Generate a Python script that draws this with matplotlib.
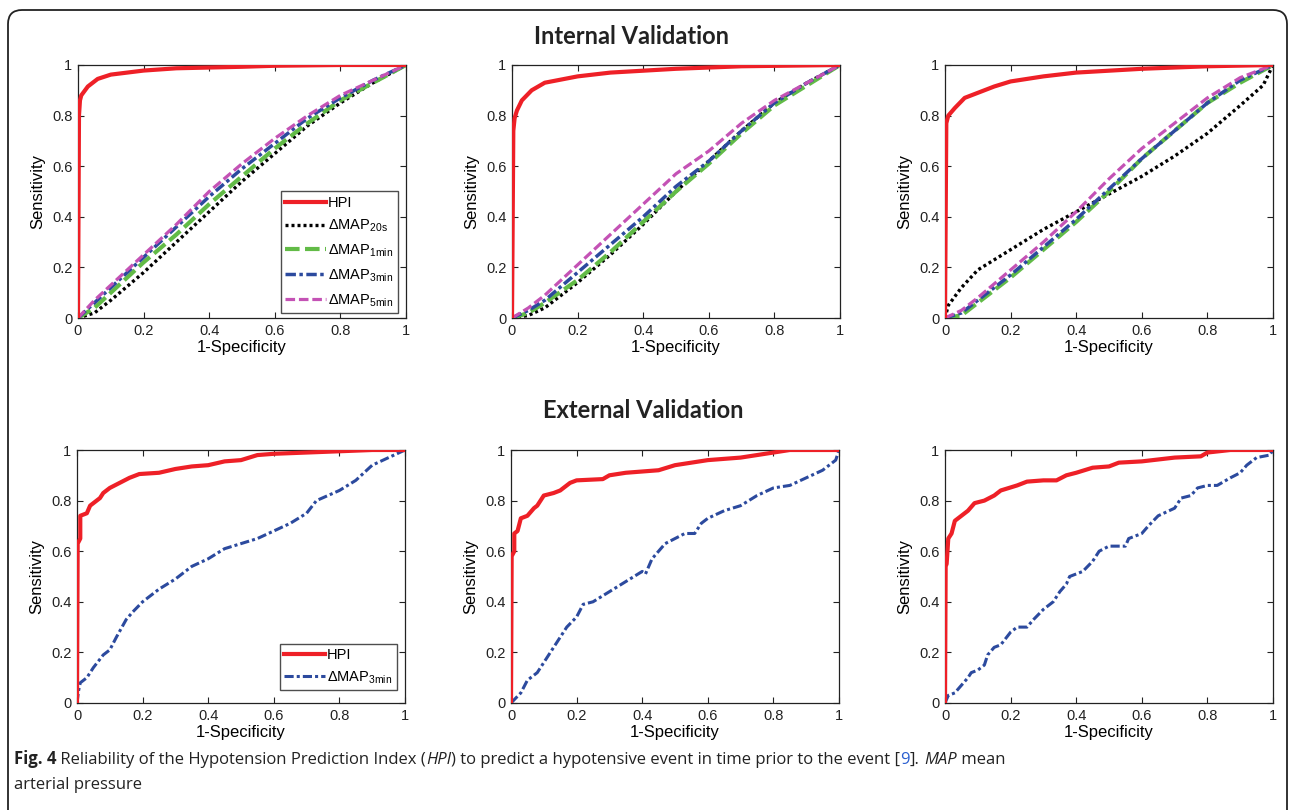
import matplotlib.pyplot as plt
from matplotlib.patches import FancyBboxPatch
from matplotlib.transforms import IdentityTransform

plt.rcParams['font.family'] = ['Liberation Sans', 'DejaVu Sans']
plt.rcParams['mathtext.fontset'] = 'custom'
plt.rcParams['mathtext.rm'] = 'Liberation Sans'

# ---- internal validation, panel 1 ----
int1_hpi_x = [0, 0.003, 0.006, 0.01, 0.03, 0.06, 0.1, 0.2, 0.3, 0.5, 0.6, 0.8, 1.0]
int1_hpi_y = [0, 0.80, 0.86, 0.88, 0.915, 0.945, 0.962, 0.978, 0.987, 0.993, 0.997, 1.0, 1.0]
int1_x = [0, 0.05, 0.1, 0.2, 0.3, 0.4, 0.5, 0.6, 0.7, 0.8, 0.9, 1.0]
int1_20s = [0, 0.02, 0.07, 0.18, 0.30, 0.42, 0.54, 0.65, 0.76, 0.85, 0.93, 1.0]
int1_1min = [0, 0.04, 0.10, 0.22, 0.33, 0.45, 0.56, 0.67, 0.77, 0.86, 0.93, 1.0]
int1_3min = [0, 0.06, 0.12, 0.24, 0.36, 0.48, 0.59, 0.69, 0.79, 0.87, 0.94, 1.0]
int1_5min = [0, 0.07, 0.13, 0.25, 0.37, 0.50, 0.61, 0.71, 0.80, 0.88, 0.94, 1.0]

# ---- internal validation, panel 2 ----
int2_hpi_x = [0, 0.004, 0.008, 0.015, 0.03, 0.06, 0.1, 0.2, 0.3, 0.5, 0.7, 1.0]
int2_hpi_y = [0, 0.74, 0.79, 0.82, 0.86, 0.90, 0.93, 0.955, 0.97, 0.985, 0.995, 1.0]
int2_x = [0, 0.05, 0.1, 0.2, 0.3, 0.4, 0.5, 0.6, 0.7, 0.8, 0.9, 1.0]
int2_20s = [0, 0.01, 0.04, 0.14, 0.25, 0.37, 0.50, 0.62, 0.74, 0.85, 0.93, 1.0]
int2_1min = [0, 0.02, 0.06, 0.15, 0.26, 0.38, 0.50, 0.61, 0.73, 0.84, 0.92, 1.0]
int2_3min = [0, 0.03, 0.07, 0.18, 0.29, 0.40, 0.52, 0.62, 0.74, 0.85, 0.93, 1.0]
int2_5min = [0, 0.04, 0.09, 0.21, 0.33, 0.45, 0.57, 0.66, 0.77, 0.86, 0.93, 1.0]

# ---- internal validation, panel 3 ----
int3_hpi_x = [0, 0.004, 0.01, 0.03, 0.06, 0.1, 0.15, 0.2, 0.3, 0.4, 0.6, 0.8, 1.0]
int3_hpi_y = [0, 0.77, 0.80, 0.83, 0.87, 0.89, 0.915, 0.935, 0.955, 0.97, 0.985, 0.995, 1.0]
int3_20s_x = [0, 0.01, 0.05, 0.1, 0.2, 0.3, 0.4, 0.5, 0.6, 0.7, 0.8, 0.9, 0.97, 1.0]
int3_20s_y = [0, 0.05, 0.12, 0.19, 0.27, 0.35, 0.42, 0.49, 0.56, 0.64, 0.73, 0.84, 0.92, 1.0]
int3_x = [0, 0.05, 0.1, 0.2, 0.3, 0.4, 0.5, 0.6, 0.7, 0.8, 0.9, 1.0]
int3_1min = [0, 0.01, 0.06, 0.16, 0.27, 0.38, 0.50, 0.63, 0.74, 0.85, 0.93, 1.0]
int3_3min = [0, 0.02, 0.07, 0.17, 0.28, 0.39, 0.51, 0.63, 0.74, 0.85, 0.94, 1.0]
int3_5min = [0, 0.03, 0.08, 0.19, 0.30, 0.42, 0.55, 0.67, 0.77, 0.87, 0.95, 1.0]

# ---- external validation, panel 1 ----
ext1_hpi_x = [0, 0.002, 0.01, 0.01, 0.03, 0.04, 0.05, 0.07, 0.08, 0.1, 0.13, 0.16, 0.19, 0.25,
              0.3, 0.35, 0.4, 0.45, 0.5, 0.55, 0.6, 0.7, 0.8, 0.9, 1.0]
ext1_hpi_y = [0, 0.63, 0.65, 0.74, 0.75, 0.78, 0.79, 0.81, 0.83, 0.85, 0.87, 0.89, 0.905, 0.91,
              0.925, 0.935, 0.94, 0.955, 0.96, 0.98, 0.985, 0.99, 0.995, 1.0, 1.0]
ext1_map_x = [0, 0.005, 0.01, 0.03, 0.05, 0.08, 0.1, 0.12, 0.15, 0.17, 0.2, 0.25, 0.3, 0.35,
              0.4, 0.45, 0.5, 0.55, 0.6, 0.65, 0.7, 0.73, 0.8, 0.85, 0.9, 0.95, 1.0]
ext1_map_y = [0, 0.05, 0.08, 0.10, 0.14, 0.19, 0.21, 0.26, 0.33, 0.36, 0.40, 0.45, 0.49, 0.54,
              0.57, 0.61, 0.63, 0.65, 0.68, 0.71, 0.75, 0.80, 0.84, 0.88, 0.94, 0.97, 1.0]

# ---- external validation, panel 2 ----
ext2_hpi_x = [0, 0.002, 0.01, 0.01, 0.02, 0.03, 0.05, 0.07, 0.08, 0.09, 0.1, 0.13, 0.15, 0.18,
              0.2, 0.28, 0.3, 0.35, 0.4, 0.45, 0.5, 0.55, 0.6, 0.7, 0.8, 0.85, 1.0]
ext2_hpi_y = [0, 0.58, 0.60, 0.67, 0.68, 0.73, 0.74, 0.77, 0.78, 0.80, 0.82, 0.83, 0.84, 0.87,
              0.88, 0.885, 0.90, 0.91, 0.915, 0.92, 0.94, 0.95, 0.96, 0.97, 0.99, 1.0, 1.0]
ext2_map_x = [0, 0.03, 0.05, 0.08, 0.1, 0.13, 0.15, 0.17, 0.2, 0.22, 0.25, 0.3, 0.35, 0.4, 0.41,
              0.43, 0.45, 0.47, 0.5, 0.53, 0.56, 0.58, 0.6, 0.65, 0.7, 0.75, 0.8, 0.85, 0.9,
              0.95, 0.99, 1.0]
ext2_map_y = [0, 0.04, 0.09, 0.12, 0.16, 0.22, 0.26, 0.30, 0.34, 0.39, 0.40, 0.44, 0.48, 0.52,
              0.51, 0.57, 0.60, 0.63, 0.65, 0.67, 0.67, 0.71, 0.73, 0.76, 0.78, 0.82, 0.85, 0.86,
              0.89, 0.92, 0.96, 1.0]

# ---- external validation, panel 3 ----
ext3_hpi_x = [0, 0.002, 0.005, 0.01, 0.02, 0.03, 0.05, 0.07, 0.09, 0.12, 0.15, 0.17, 0.22, 0.25,
              0.3, 0.34, 0.37, 0.4, 0.45, 0.5, 0.53, 0.6, 0.7, 0.78, 0.8, 0.87, 1.0]
ext3_hpi_y = [0, 0.54, 0.55, 0.65, 0.67, 0.72, 0.74, 0.76, 0.79, 0.80, 0.82, 0.84, 0.86, 0.875,
              0.88, 0.88, 0.90, 0.91, 0.93, 0.935, 0.95, 0.955, 0.97, 0.975, 0.99, 1.0, 1.0]
ext3_map_x = [0, 0.01, 0.03, 0.05, 0.07, 0.08, 0.1, 0.12, 0.13, 0.15, 0.17, 0.2, 0.22, 0.25,
              0.27, 0.3, 0.33, 0.35, 0.37, 0.38, 0.42, 0.45, 0.47, 0.5, 0.55, 0.56, 0.6, 0.62,
              0.65, 0.7, 0.72, 0.75, 0.77, 0.8, 0.83, 0.87, 0.9, 0.92, 0.95, 0.99, 1.0]
ext3_map_y = [0, 0.03, 0.04, 0.07, 0.10, 0.12, 0.13, 0.15, 0.19, 0.22, 0.23, 0.28, 0.30, 0.30,
              0.33, 0.37, 0.40, 0.44, 0.47, 0.50, 0.52, 0.56, 0.60, 0.62, 0.62, 0.65, 0.67, 0.70,
              0.74, 0.77, 0.81, 0.82, 0.85, 0.86, 0.86, 0.89, 0.91, 0.94, 0.97, 0.98, 1.0]

labels = ['HPI', r'ΔMAP$_{\mathregular{20s}}$', r'ΔMAP$_{\mathregular{1min}}$',
          r'ΔMAP$_{\mathregular{3min}}$', r'ΔMAP$_{\mathregular{5min}}$']

RED = '#ee2027'
GREEN = '#62bb47'
BLUE = '#2c4a9e'
MAGENTA = '#c452b5'

fig = plt.figure(figsize=(12.92, 8.10), dpi=100)


def make_ax(left_px, top_px):
    ax = fig.add_axes([left_px / 1292, 1 - (top_px + 253) / 810, 328 / 1292, 253 / 810])
    ax.set_xlim(0, 1)
    ax.set_ylim(0, 1)
    ax.set_xticks([0, 0.2, 0.4, 0.6, 0.8, 1])
    ax.set_yticks([0, 0.2, 0.4, 0.6, 0.8, 1])
    ax.set_xticklabels(['0', '0.2', '0.4', '0.6', '0.8', '1'])
    ax.set_yticklabels(['0', '0.2', '0.4', '0.6', '0.8', '1'])
    ax.tick_params(direction='in', top=True, right=True, length=4, width=0.8,
                   labelsize=10.5, pad=4, colors='#222222')
    for s in ax.spines.values():
        s.set_linewidth(0.9)
        s.set_color('#222222')
    ax.set_xlabel('1-Specificity', fontsize=12, labelpad=2)
    ax.set_ylabel('Sensitivity', fontsize=12, labelpad=5)
    return ax


def internal(ax, hx, hy, mx20, m20, mx, m1, m3, m5):
    ax.plot(mx20, m20, color='black', lw=2.4, dashes=(0.9, 0.9), zorder=3)
    ax.plot(mx, m1, color=GREEN, lw=3, dashes=(3.5, 1.3), zorder=3)
    ax.plot(mx, m3, color=BLUE, lw=2.5, dashes=(3, 1, 1, 1), zorder=3)
    ax.plot(mx, m5, color=MAGENTA, lw=2.3, dashes=(3, 1.2), zorder=3)
    ax.plot(hx, hy, color=RED, lw=3, zorder=4)


def external(ax, hx, hy, mx, my):
    ax.plot(mx, my, color=BLUE, lw=2.2, dashes=(3, 1, 1, 1), zorder=3)
    ax.plot(hx, hy, color=RED, lw=3, zorder=4)


ax1 = make_ax(78, 65)
internal(ax1, int1_hpi_x, int1_hpi_y, int1_x, int1_20s, int1_x, int1_1min, int1_3min, int1_5min)
ax2 = make_ax(512, 65)
internal(ax2, int2_hpi_x, int2_hpi_y, int2_x, int2_20s, int2_x, int2_1min, int2_3min, int2_5min)
ax3 = make_ax(945, 65)
internal(ax3, int3_hpi_x, int3_hpi_y, int3_20s_x, int3_20s_y, int3_x, int3_1min, int3_3min, int3_5min)

ax4 = make_ax(77, 450)
external(ax4, ext1_hpi_x, ext1_hpi_y, ext1_map_x, ext1_map_y)
ax5 = make_ax(511, 450)
external(ax5, ext2_hpi_x, ext2_hpi_y, ext2_map_x, ext2_map_y)
ax6 = make_ax(945, 450)
external(ax6, ext3_hpi_x, ext3_hpi_y, ext3_map_x, ext3_map_y)

# legends
h1 = [ax1.lines[4], ax1.lines[0], ax1.lines[1], ax1.lines[2], ax1.lines[3]]
leg = ax1.legend(h1, labels, loc='lower right', bbox_to_anchor=(0.975, 0.02), fontsize=10.5,
                 frameon=True, fancybox=False, edgecolor='#222222', handlelength=2.8,
                 handletextpad=0.15, borderpad=0.3, labelspacing=0.55, borderaxespad=0)
leg.get_frame().set_linewidth(1)
h4 = [ax4.lines[1], ax4.lines[0]]
leg = ax4.legend(h4, [labels[0], labels[3]], loc='lower right', bbox_to_anchor=(0.975, 0.05),
                 fontsize=10.5, frameon=True, fancybox=False, edgecolor='#222222', handlelength=2.8,
                 handletextpad=0.15, borderpad=0.3, labelspacing=0.5, borderaxespad=0)
leg.get_frame().set_linewidth(1)

# section titles
fig.text(631 / 1292, 1 - 37 / 810, 'Internal Validation', ha='center', va='center',
         fontsize=17, fontweight='bold', family=['Lato', 'DejaVu Sans'], color='#222222')
fig.text(643 / 1292, 1 - 410 / 810, 'External Validation', ha='center', va='center',
         fontsize=17, fontweight='bold', family=['Lato', 'DejaVu Sans'], color='#222222')

# outer rounded frame
frame = FancyBboxPatch((8, -40), 1279, 840, boxstyle='round,pad=0,rounding_size=14',
                       transform=IdentityTransform(), fill=False, lw=1.3, ec='#222222')
fig.add_artist(frame)

# caption, built piece by piece
renderer = fig.canvas.get_renderer()
cap_font = ['Open Sans', 'DejaVu Sans']
cap_size = 12
pieces = [('Fig. 4', 'bold', 'normal', '#222222'),
          (' Reliability of the Hypotension Prediction Index (', 'normal', 'normal', '#222222'),
          ('HPI', 'normal', 'italic', '#222222'),
          (') to predict a hypotensive event in time prior to the event [', 'normal', 'normal', '#222222'),
          ('9', 'normal', 'normal', '#2a5fd0'),
          ('].', 'normal', 'normal', '#222222'),
          (' ', 'normal', 'normal', '#222222'),
          ('MAP', 'normal', 'italic', '#222222'),
          (' mean', 'normal', 'normal', '#222222')]
x = 14
for txt, weight, style, col in pieces:
    t = fig.text(x / 1292, 1 - 764 / 810, txt, fontsize=cap_size, fontweight=weight,
                 fontstyle=style, family=cap_font, color=col, va='baseline', ha='left')
    bb = t.get_window_extent(renderer)
    x += bb.width
fig.text(14 / 1292, 1 - 789 / 810, 'arterial pressure', fontsize=cap_size, family=cap_font,
         color='#222222', va='baseline', ha='left')

fig.savefig('out.png', dpi=100)
